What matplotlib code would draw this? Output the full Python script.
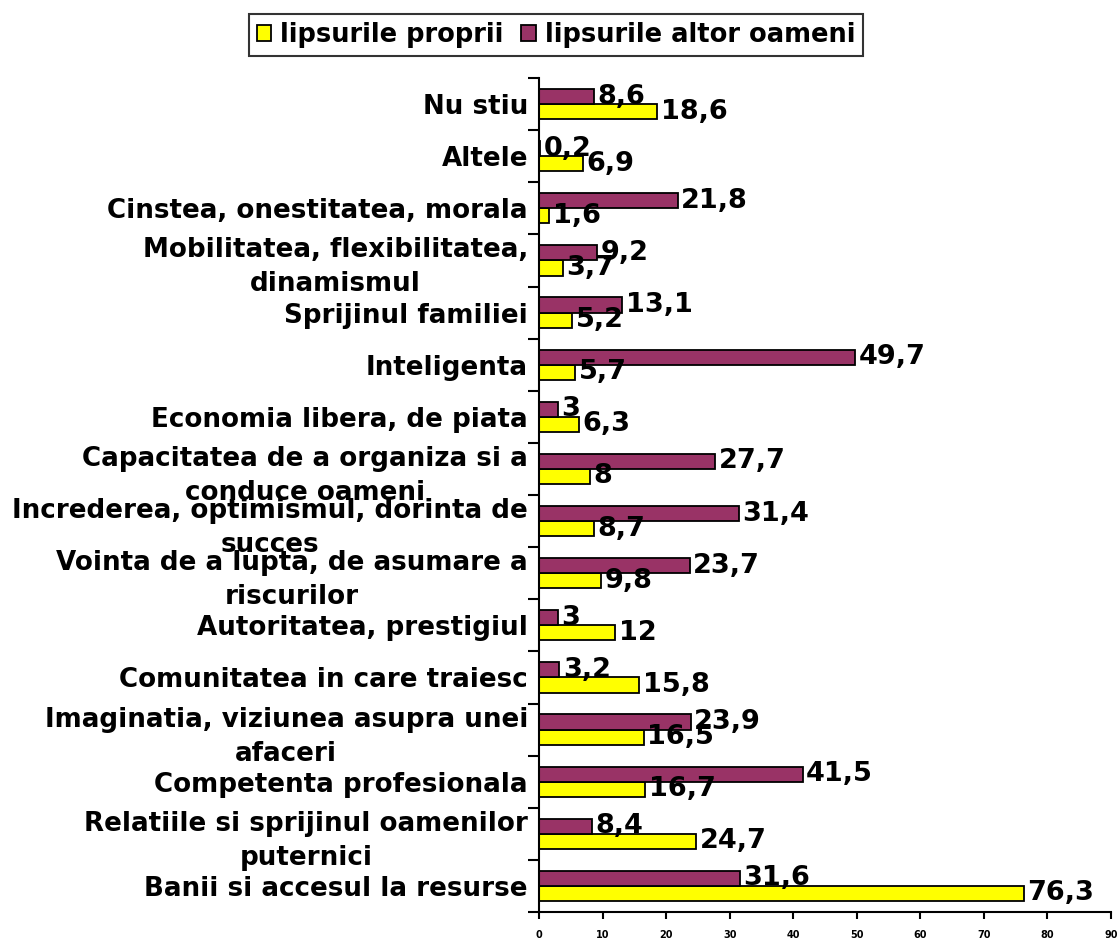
import matplotlib
matplotlib.use("Agg")
import matplotlib.pyplot as plt
import numpy as np

plt.rcParams['font.family'] = ['DejaVu Sans']
plt.rcParams['font.weight'] = 'bold'

# Categories from bottom to top
categories = [
    "Banii si accesul la resurse",
    "Relatiile si sprijinul oamenilor\nputernici",
    "Competenta profesionala",
    "Imaginatia, viziunea asupra unei\nafaceri",
    "Comunitatea in care traiesc",
    "Autoritatea, prestigiul",
    "Vointa de a lupta, de asumare a\nriscurilor",
    "Increderea, optimismul, dorinta de\nsucces",
    "Capacitatea de a organiza si a\nconduce oameni",
    "Economia libera, de piata",
    "Inteligenta",
    "Sprijinul familiei",
    "Mobilitatea, flexibilitatea,\ndinamismul",
    "Cinstea, onestitatea, morala",
    "Altele",
    "Nu stiu",
]
proprii = [76.3, 24.7, 16.7, 16.5, 15.8, 12, 9.8, 8.7, 8, 6.3, 5.7, 5.2, 3.7, 1.6, 6.9, 18.6]
altor = [31.6, 8.4, 41.5, 23.9, 3.2, 3, 23.7, 31.4, 27.7, 3, 49.7, 13.1, 9.2, 21.8, 0.2, 8.6]
series_names = ["lipsurile proprii", "lipsurile altor oameni"]
xticks = [0, 10, 20, 30, 40, 50, 60, 70, 80, 90]

yellow = "#FFFF00"
purple = "#993366"

fig = plt.figure(figsize=(11.19, 9.42), dpi=100)
ax = fig.add_axes([539/1119, 30/942, (1111-539)/1119, (912-78)/942])

y = np.arange(len(categories))
h = 0.29
b1 = ax.barh(y - h/2, proprii, height=h, color=yellow, edgecolor="black", linewidth=1.3, label=series_names[0])
b2 = ax.barh(y + h/2, altor, height=h, color=purple, edgecolor="black", linewidth=1.3, label=series_names[1])

def fmt(v):
    if float(v).is_integer():
        return str(int(v))
    return f"{v:.1f}".replace(".", ",")

for bars, vals in ((b1, proprii), (b2, altor)):
    for rect, v in zip(bars, vals):
        ax.annotate(fmt(v), (rect.get_width(), rect.get_y() + rect.get_height()/2),
                    xytext=(2.5, 0), textcoords="offset points", ha="left", va="center",
                    fontsize=19.5, fontweight="bold")

ax.set_xlim(0, 90)
ax.set_ylim(-0.5, len(categories) - 0.5)
ax.set_xticks(xticks)
ax.set_xticklabels([str(t) for t in xticks], fontsize=7, fontweight="bold")

ax.set_yticks(y)
ax.set_yticklabels(categories, fontsize=18.8, fontweight="bold", ha="right",
                   multialignment="center", linespacing=1.4)
ax.set_yticks(np.arange(len(categories) + 1) - 0.5, minor=True)
ax.tick_params(axis="y", which="major", length=0, pad=8)
ax.tick_params(axis="y", which="minor", length=8, width=1.5, direction="out")
ax.tick_params(axis="x", which="major", length=5, width=1.5, direction="out", pad=8)

for s in ("top", "right"):
    ax.spines[s].set_visible(False)
for s in ("left", "bottom"):
    ax.spines[s].set_linewidth(1.5)

leg = fig.legend(handles=[b1, b2], labels=series_names, loc="center",
                 bbox_to_anchor=(556/1119, 1 - 35/942), ncol=2, frameon=True,
                 fancybox=False, edgecolor="black",
                 prop={"weight": "bold", "size": 18.5},
                 handlelength=0.55, handleheight=0.55, handletextpad=0.35,
                 columnspacing=0.7, borderpad=0.3)
leg.get_frame().set_linewidth(1.5)

fig.savefig("out.png", dpi=100)
